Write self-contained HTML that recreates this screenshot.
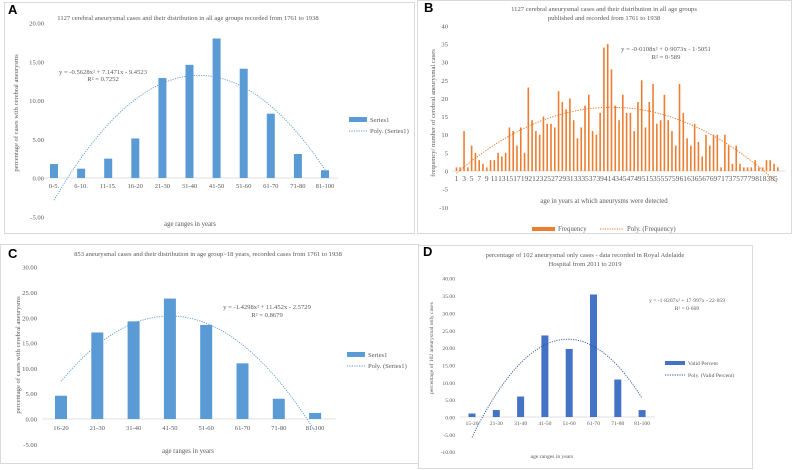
<!DOCTYPE html>
<html><head><meta charset="utf-8"><style>
html,body{margin:0;padding:0;background:#fff;}
svg{display:block;font-family:"Liberation Serif",serif;}
text{fill:#595959;}
</style></head><body>
<svg id="s" width="792" height="470" viewBox="0 0 792 470">
<rect x="4.5" y="2.5" width="410" height="231" fill="#fff" stroke="#d9d9d9"/>
<rect x="417.5" y="0.5" width="374" height="233" fill="#fff" stroke="#d9d9d9"/>
<rect x="0.5" y="244.5" width="418" height="219" fill="#fff" stroke="#d9d9d9"/>
<rect x="418.5" y="245.5" width="334" height="223" fill="#fff" stroke="#d9d9d9"/>
<g id="g"></g>
</svg>
<script>
// Panel A data
const catsA=["0-5.","6-10.","11-15.","16-20","21-30","31-40","41-50","51-60","61-70","71-80","81-100"];
const valsA=[1.8,1.2,2.5,5.1,12.9,14.6,18.0,14.1,8.3,3.1,1.0];
const polyA=[-0.5628,7.1471,-9.4523];
const ticksA=[20,15,10,5,0,-5];
// Panel B data
const valsB=[1,1,11,1,7,5,3,2,1,3,3,5,4,5,12,11,7,12,5,23,14,11,10,15,13,13,12,22,19,17,20,14,9,12,18,21,11,10,16,34,35,28,18,14,21,16,16,11,19,25,12,19,24,13,14,21,14,11,7,24,16,9,7,13,8,4,10,7,10,10,1,10,7,2,7,2,1,1,1,3,1,1,3,3,2,1];
const polyB=[-0.0108,0.9073,-1.5051];
const ticksB=[40,35,30,25,20,15,10,5,0,-5,-10];
// Panel C data
const catsC=["16-20","21-30","31-40","41-50","51-60","61-70","71-80","81-100"];
const valsC=[4.6,17.1,19.3,23.8,18.6,11.0,4.0,1.2];
const polyC=[-1.4298,11.452,-2.5729];
const ticksC=[30,25,20,15,10,5,0,-5];
// Panel D data
const catsD=["15-20","21-30","31-40","41-50","51-60","61-70","71-80","81-100"];
const valsD=[1.0,2.0,5.9,23.5,19.6,35.3,10.8,2.0];
const polyD=[-1.8207,17.997,-22.059];
const ticksD=[40,35,30,25,20,15,10,5,0,-5,-10];

const NS="http://www.w3.org/2000/svg";
const G=document.getElementById('g');
function mk(tag,attrs,parent,txt){const e=document.createElementNS(NS,tag);for(const k in attrs)e.setAttribute(k,attrs[k]);if(txt!==undefined)e.textContent=txt;(parent||G).appendChild(e);return e;}

function panel(o){
  const y=v=>o.y0-v*o.ppu;
  const x=i=>o.x0+i*o.step;
  const grp=mk('g',{});
  
  
  o.ticks.forEach(t=>{
    const e=mk('text',{x:o.labX,y:y(t)+2.5,'font-size':o.fs,'text-anchor':'end'},grp,o.dec?t.toFixed(2):String(t));
    
    
  });
  const bl=mk('line',{x1:o.axL,x2:o.axR,y1:y(0),y2:y(0),stroke:'#d9d9d9','stroke-width':0.8},grp);
  
  
  o.vals.forEach((v,i)=>{
    const r=mk('rect',{x:x(i)-o.bw/2,y:y(Math.max(v,0)),width:o.bw,height:Math.abs(v)*o.ppu,fill:o.color},grp);
    
    
  });
  if(o.cats){o.cats.forEach((c,i)=>{
    const e=mk('text',{x:x(i),y:o.labY,'font-size':o.fs,'text-anchor':'middle'},grp,c);
    
    
  });}
  let d='';const n=o.vals.length;
  for(let k=0;k<=120;k++){const xv=1+(n-1)*k/120;const yv=o.poly[0]*xv*xv+o.poly[1]*xv+o.poly[2];d+=(k?'L':'M')+x(xv-1).toFixed(2)+','+y(yv).toFixed(2);}
  const p=mk('path',{d:d,fill:'none',stroke:o.tcolor,'stroke-width':o.tw||0.9,'stroke-dasharray':o.dash||'1.2,1.2'},grp);
  
  
  return {x,y,grp};
}

function txt(x,y,s,fs,name,anchor,extra){const e=mk('text',Object.assign({x:x,y:y,'font-size':fs,'text-anchor':anchor||'middle'},extra||{}),G,s);return e;}
function letter(x,y,s,name){const e=mk('text',{x:x,y:y,'font-size':13,'font-weight':'bold','font-family':'Liberation Sans, sans-serif',style:'fill:#000'},G,s);}

// ---- A
panel({name:'panel-a-chart',vals:valsA,cats:catsA,poly:polyA,ticks:ticksA,y0:178,ppu:7.75,x0:54,step:27.1,bw:8,color:'#5b9bd5',tcolor:'#5b9bd5',labX:44,labY:188,axL:42,axR:338,fs:6.6,dec:true});
letter(8,14,'A','panel-a-letter');
txt(188,20,'1127 cerebral aneurysmal cases and their distribution in all age groups recorded from 1761 to 1938',6.6,'panel-a-title');
txt(103,74,'y = -0.5628x² + 7.1471x - 9.4523',6.6,'panel-a-equation');
txt(103,81,'R² = 0.7252',6.6,'panel-a-r2');
txt(18,113,'percentage of cases with cerebral aneurysms',6.6,'panel-a-y-title','middle',{transform:'rotate(-90 18 113)'});
txt(190,226,'age ranges in years',6.8,'panel-a-x-title');
(function(){const r=mk('rect',{x:349,y:117,width:18,height:5,fill:'#5b9bd5'});
const l=mk('line',{x1:349,x2:367,y1:131,y2:131,stroke:'#5b9bd5','stroke-width':0.9,'stroke-dasharray':'1.2,1.2'});
txt(370,122,'Series1',6.6,'legend-entry-series1','start');txt(370,133,'Poly. (Series1)',6.6,'legend-entry-poly','start');})();

// ---- B
(function(){
const P=panel({name:'panel-b-chart',vals:valsB,cats:null,poly:polyB,ticks:ticksB,y0:171,ppu:3.63,x0:456.5,step:3.78,bw:1.6,color:'#ed7d31',tcolor:'#ed7d31',labX:448,labY:180,axL:452,axR:785,fs:6.6,dec:false,dash:'1.3,1.3',tw:1});
for(let i=0;i<valsB.length;i+=2){const e=mk('text',{x:P.x(i),y:181,'font-size':7.4,'text-anchor':'middle'},P.grp,String(i+1));}
})();
letter(424,12,'B','panel-b-letter');
txt(604,11,'1127 cerebral aneurysmal cases and their distribution in all age groups',6.6,'panel-b-title-1');
txt(604,20,'published and recorded from 1761 to 1938',6.6,'panel-b-title-2');
txt(666,51,'y = -0·0108x² + 0·9073x - 1·5051',6.6,'panel-b-equation');
txt(666,59,'R² = 0·589',6.6,'panel-b-r2');
txt(435,113,'frequency/ number of cerebral aneurysmal cases',6.6,'panel-b-y-title','middle',{transform:'rotate(-90 435 113)'});
txt(604,203,'age in years at which aneurysms were detected',6.8,'panel-b-x-title');
(function(){const r=mk('rect',{x:532,y:227,width:23,height:4,fill:'#ed7d31'});
const l=mk('line',{x1:600,x2:624,y1:229,y2:229,stroke:'#ed7d31','stroke-width':0.9,'stroke-dasharray':'1.2,1.2'});
txt(558,231,'Frequency',6.8,'legend-entry-frequency','start');txt(627,231,'Poly. (Frequency)',6.8,'legend-entry-poly-frequency','start');})();

// ---- C
panel({name:'panel-c-chart',vals:valsC,cats:catsC,poly:polyC,ticks:ticksC,y0:419,ppu:5.06,x0:61,step:36.3,bw:12,color:'#5b9bd5',tcolor:'#5b9bd5',labX:37,labY:430,axL:42,axR:336,fs:6.6,dec:true});
letter(8,258,'C','panel-c-letter');
txt(208,256,'853 aneurysmal cases and their distribution in age group>18 years, recorded cases from 1761 to 1938',6.6,'panel-c-title');
txt(267,309,'y = -1.4298x² + 11.452x - 2.5729',6.6,'panel-c-equation');
txt(267,317,'R² = 0.8679',6.6,'panel-c-r2');
txt(20,355,'percentage of cases with cerebral aneurysms',6.6,'panel-c-y-title','middle',{transform:'rotate(-90 20 355)'});
txt(188,453,'age ranges in years',6.8,'panel-c-x-title');
(function(){const r=mk('rect',{x:347,y:352,width:18,height:5,fill:'#5b9bd5'});
const l=mk('line',{x1:347,x2:365,y1:366,y2:366,stroke:'#5b9bd5','stroke-width':0.9,'stroke-dasharray':'1.2,1.2'});
txt(368,357,'Series1',6.6,'legend-entry-series1-c','start');txt(368,368,'Poly. (Series1)',6.6,'legend-entry-poly-c','start');})();

// ---- D
panel({name:'panel-d-chart',vals:valsD,cats:catsD,poly:polyD,ticks:ticksD,y0:417,ppu:3.47,x0:472,step:24.3,bw:7,color:'#4472c4',tcolor:'#2f5597',labX:455,labY:425,axL:460,axR:655,fs:5.6,dec:true,dash:'1.2,1.2'});
letter(423,256,'D','panel-d-letter');
txt(585,257,'percentage of 102 aneurysmal only cases - data recorded in Royal Adelaide',6.6,'panel-d-title-1');
txt(585,266,'Hospital from 2011 to 2019',6.6,'panel-d-title-2');
txt(687,302,'y = -1·8207x² + 17·997x - 22·059',5.6,'panel-d-equation');
txt(687,310,'R² = 0·609',5.6,'panel-d-r2');
txt(433,348,'percentage of 102 aneurysmal only cases',5.6,'panel-d-y-title','middle',{transform:'rotate(-90 433 348)'});
txt(552,458,'age ranges in years',5.6,'panel-d-x-title');
(function(){const r=mk('rect',{x:665,y:361,width:20,height:4,fill:'#4472c4'});
const l=mk('line',{x1:665,x2:685,y1:375,y2:375,stroke:'#2f5597','stroke-width':0.9,'stroke-dasharray':'1.2,1.2'});
txt(688,365,'Valid Percent',5.6,'legend-entry-valid-percent','start');txt(688,377,'Poly. (Valid Percent)',5.6,'legend-entry-poly-valid-percent','start');})();
</script>
</body></html>
